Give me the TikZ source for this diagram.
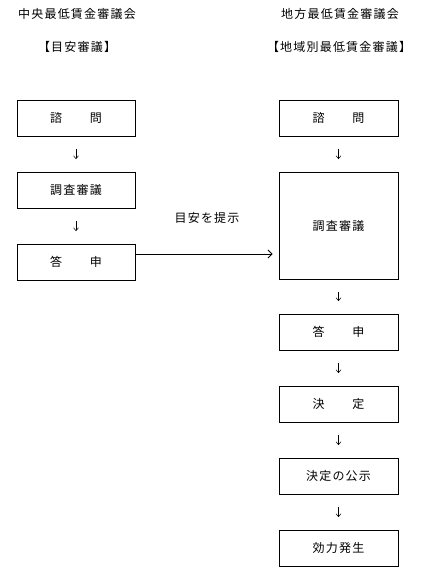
\documentclass[tikz,border=0pt]{standalone}
\usepackage{fontspec}
\setmainfont{Noto Sans CJK JP}[LetterSpace=10]
\usetikzlibrary{arrows.meta}
\begin{document}
\begin{tikzpicture}[x=1pt,y=-1pt,
  every node/.style={font=\fontsize{12}{14}\selectfont, inner sep=0pt},
  box/.style={draw, line width=0.8pt, minimum width=118pt, minimum height=36pt},
  downarr/.style={-{Straight Barb[length=3pt,width=5pt]}, line width=0.5pt, shorten <=12.5pt, shorten >=12.5pt},
  mainarr/.style={-{Straight Barb[length=4pt,width=8pt]}, line width=0.9pt}]
\useasboundingbox (0,0) rectangle (437,576);
% headers
\node (h1) at (77,14) {中央最低賃金審議会};
\node (h2) at (340,14) {地方最低賃金審議会};
\node (s1) at (77,47) {【目安審議】};
\node (s2) at (339,47) {【地域別最低賃金審議】};
% left column
\node[box] (l1) at (76,118) {諮　　問};
\node[box] (l2) at (76,190) {調査審議};
\node[box] (l3) at (76,262) {答　　申};
% right column
\node[box, minimum width=119pt] (r1) at (338.5,118) {諮　　問};
\node[box, minimum width=119pt, minimum height=107pt] (r2) at (338.5,225.5) {調査審議};
\node[box, minimum width=119pt] (r3) at (338.5,332) {答　　申};
\node[box, minimum width=119pt] (r4) at (338.5,404) {決　　定};
\node[box, minimum width=119pt] (r5) at (338.5,476) {決定の公示};
\node[box, minimum width=119pt] (r6) at (338.5,548) {効力発生};
% down arrows
\draw[downarr] (l1) -- (l2);
\draw[downarr] (l2) -- (l3);
\draw[downarr] (r1) -- (r2);
\draw[downarr] (r2) -- (r3);
\draw[downarr] (r3) -- (r4);
\draw[downarr] (r4) -- (r5);
\draw[downarr] (r5) -- (r6);
% main arrow
\draw[mainarr, shorten >=6pt] ([yshift=8pt]l3.east) -- ([yshift=8pt]l3.east -| r2.west);
\node (lab) at (207,218) {目安を提示};
\end{tikzpicture}
\end{document}
